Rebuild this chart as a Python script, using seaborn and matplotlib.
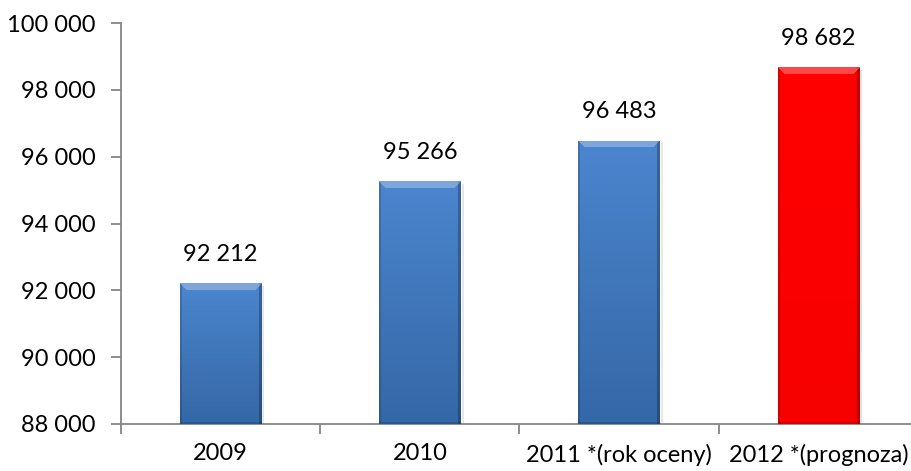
#!/usr/bin/env python3
"""Bar chart: values per year with forecast highlighted."""

import matplotlib

matplotlib.use("Agg")
import matplotlib.pyplot as plt
import numpy as np
import pandas as pd
import seaborn as sns
from matplotlib.colors import to_rgb
from matplotlib.ticker import FixedLocator, FuncFormatter

categories = ["2009", "2010", "2011 *(rok oceny)", "2012 *(prognoza)"]
values = [92212, 95266, 96483, 98682]
bar_colors = ["#407ecb", "#407ecb", "#407ecb", "#ff0000"]

sns.set_theme(style="white")
plt.rcParams["font.family"] = ["Lato", "DejaVu Sans"]


def thousands(v, _pos=None):
    return f"{int(round(v)):,}".replace(",", " ")


def shade(color, factor):
    rgb = np.array(to_rgb(color))
    if factor >= 0:
        return rgb + (1 - rgb) * factor
    return rgb * (1 + factor)


def bar_image(color, w_px, h_px, bevel=7):
    """Small RGB image giving a soft vertical gradient and bevelled edges."""
    w_px, h_px = max(int(w_px), 2), max(int(h_px), 2)
    rgb = np.array(to_rgb(color))
    strong = rgb[0] < 0.5  # blue bars get a gradient, red stays flat
    top = shade(color, 0.06 if strong else 0.0)
    bottom = shade(color, -0.18 if strong else -0.03)
    t = np.linspace(0, 1, h_px)[:, None, None]
    img = top * (1 - t) + bottom * t
    img = np.repeat(img, w_px, axis=1)
    yy, xx = np.mgrid[0:h_px, 0:w_px]
    dist_side = np.minimum(xx, w_px - 1 - xx)
    # darker side edges
    img[xx >= w_px - 3] *= 0.75
    img[xx < 2] *= 0.85
    # light bevel at top
    top_band = (yy < bevel) & (dist_side >= yy)
    img[top_band] = img[top_band] + (1 - img[top_band]) * 0.28
    # darker bottom edge
    img[yy >= h_px - 2] *= 0.85
    return np.clip(img, 0, 1)


df = pd.DataFrame({"category": categories, "value": values})

fig = plt.figure(figsize=(9.12, 4.71), dpi=100)
ax = fig.add_axes([121 / 912, 1 - 424 / 471, 797 / 912, 401 / 471])

sns.barplot(
    data=df,
    x="category",
    y="value",
    hue="category",
    palette=bar_colors,
    width=0.41,
    legend=False,
    ax=ax,
    zorder=2,
)

ax.set_ylim(88000, 100000)
ax.set_xlim(-0.5, len(categories) - 0.5)
ax.yaxis.set_major_locator(FixedLocator(np.arange(88000, 100001, 2000)))
ax.yaxis.set_major_formatter(FuncFormatter(thousands))

px_per_unit = 401 / 12000
for patch, color in zip(ax.patches, bar_colors):
    x0, w = patch.get_x(), patch.get_width()
    y1 = patch.get_height()
    # soft shadow
    shadow = plt.Rectangle(
        (x0 + 0.015, 88000), w, y1 - 88000 - 80,
        color="#000000", alpha=0.10, zorder=1, linewidth=0,
    )
    ax.add_patch(shadow)
    h_px = (y1 - 88000) * px_per_unit
    img = bar_image(color, w * 199, h_px)
    im = ax.imshow(
        img, extent=(x0, x0 + w, 88000, y1), aspect="auto",
        origin="upper", zorder=3, interpolation="bilinear",
    )
    im.set_clip_path(patch)
    ax.annotate(
        thousands(y1), (x0 + w / 2, y1), xytext=(0, 13),
        textcoords="offset points", ha="center", va="bottom",
        fontsize=17, color="black",
    )

ax.set_aspect("auto")
ax.set_xlim(-0.5, len(categories) - 0.5)
ax.set_ylim(88000, 100000)

for side in ("top", "right"):
    ax.spines[side].set_visible(False)
for side in ("left", "bottom"):
    ax.spines[side].set_color("#868686")
    ax.spines[side].set_linewidth(1.3)

ax.set_xticks(np.arange(-0.5, len(categories)), minor=True)
ax.tick_params(axis="x", which="major", length=0, pad=14, labelsize=17,
               colors="black")
ax.tick_params(axis="x", which="minor", length=7, width=1.3, color="#868686",
               direction="out", bottom=True)
ax.tick_params(axis="y", which="major", length=7, width=1.3, color="#868686",
               direction="out", left=True, labelsize=17, labelcolor="black",
               pad=11)
ax.set_xlabel("")
ax.set_ylabel("")

fig.savefig("out.png", dpi=100)
